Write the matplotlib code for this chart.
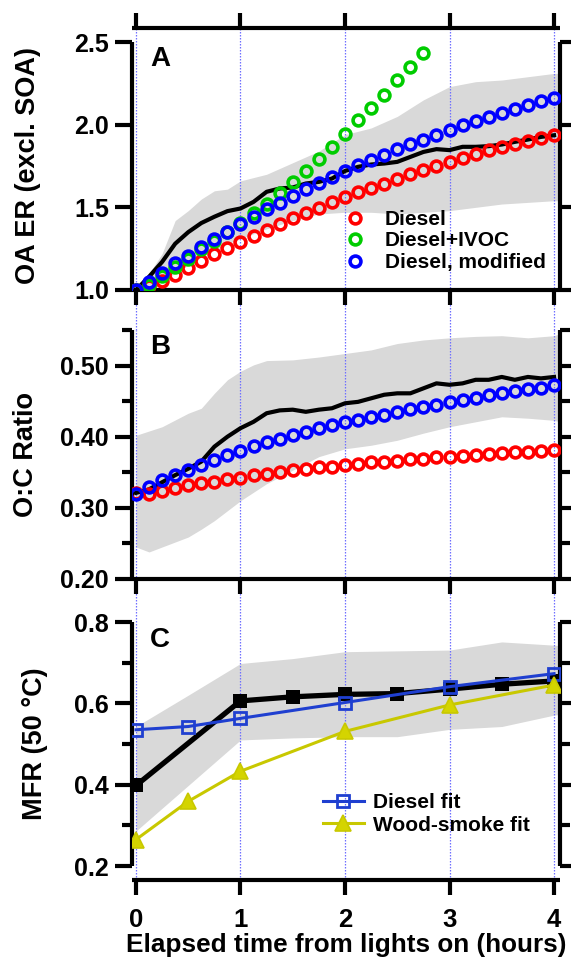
import matplotlib
matplotlib.use('Agg')
import matplotlib.pyplot as plt
from matplotlib.ticker import MultipleLocator, FormatStrFormatter

plt.rcParams['font.family'] = ['Liberation Sans', 'DejaVu Sans']
plt.rcParams['font.weight'] = 'bold'

# ---------------- data ----------------
t_model = [0.0, 0.125, 0.25, 0.375, 0.5, 0.625, 0.75, 0.875, 1.0, 1.125, 1.25, 1.375,
           1.5, 1.625, 1.75, 1.875, 2.0, 2.125, 2.25, 2.375, 2.5, 2.625, 2.75, 2.875,
           3.0, 3.125, 3.25, 3.375, 3.5, 3.625, 3.75, 3.875, 4.0]
t_ivoc = [0.0, 0.125, 0.25, 0.375, 0.5, 0.625, 0.75, 0.875, 1.0, 1.125, 1.25, 1.375,
          1.5, 1.625, 1.75, 1.875, 2.0, 2.125, 2.25, 2.375, 2.5, 2.625, 2.75]

# Panel A: OA ER
oa_diesel = [1.0, 1.024, 1.054, 1.09, 1.135, 1.175, 1.215, 1.256, 1.292, 1.328, 1.362, 1.399,
             1.433, 1.467, 1.497, 1.53, 1.56, 1.59, 1.618, 1.644, 1.67, 1.699, 1.725, 1.751,
             1.775, 1.80, 1.825, 1.846, 1.866, 1.886, 1.902, 1.92, 1.936]
oa_ivoc = [1.0, 1.03, 1.085, 1.14, 1.19, 1.245, 1.298, 1.352, 1.407, 1.463, 1.52, 1.588,
           1.654, 1.721, 1.795, 1.866, 1.946, 2.027, 2.103, 2.182, 2.268, 2.349, 2.433]
oa_modified = [1.0, 1.05, 1.105, 1.161, 1.205, 1.258, 1.306, 1.352, 1.399, 1.443, 1.487, 1.527,
               1.568, 1.608, 1.648, 1.685, 1.721, 1.755, 1.785, 1.819, 1.85, 1.882, 1.91, 1.94,
               1.97, 1.997, 2.023, 2.047, 2.073, 2.097, 2.121, 2.142, 2.164]
oa_measured = [1.0, 1.08, 1.17, 1.28, 1.35, 1.405, 1.443, 1.477, 1.493, 1.533, 1.594, 1.614,
               1.62, 1.644, 1.654, 1.674, 1.72, 1.745, 1.759, 1.765, 1.775, 1.805, 1.835, 1.852,
               1.846, 1.866, 1.866, 1.87, 1.88, 1.896, 1.91, 1.926, 1.936]
t_band_a = [0.0, 0.125, 0.25, 0.375, 0.5, 0.625, 0.75, 0.875, 1.0, 1.125, 1.25, 1.5, 1.75,
            2.0, 2.25, 2.5, 2.75, 3.0, 3.25, 3.5, 3.75, 4.0, 4.06]
oa_band_hi = [1.0, 1.1, 1.22, 1.42, 1.48, 1.55, 1.60, 1.61, 1.66, 1.68, 1.70, 1.77, 1.84,
              1.94, 1.98, 2.05, 2.15, 2.23, 2.26, 2.27, 2.29, 2.31, 2.31]
oa_band_lo = [1.0, 1.02, 1.06, 1.10, 1.15, 1.20, 1.24, 1.28, 1.31, 1.34, 1.37, 1.42, 1.46,
              1.47, 1.47, 1.46, 1.47, 1.48, 1.50, 1.52, 1.53, 1.54, 1.54]

# Panel B: O:C
oc_diesel = [0.321, 0.32, 0.324, 0.328, 0.332, 0.335, 0.337, 0.34, 0.342, 0.346, 0.348, 0.35,
             0.353, 0.355, 0.357, 0.358, 0.36, 0.362, 0.364, 0.365, 0.366, 0.368, 0.369, 0.371,
             0.372, 0.373, 0.374, 0.376, 0.377, 0.378, 0.379, 0.38, 0.381]
oc_modified = [0.32, 0.329, 0.339, 0.346, 0.353, 0.36, 0.367, 0.374, 0.38, 0.387, 0.392, 0.397,
               0.402, 0.407, 0.412, 0.416, 0.42, 0.424, 0.428, 0.431, 0.435, 0.439, 0.442, 0.445,
               0.449, 0.452, 0.455, 0.459, 0.461, 0.464, 0.467, 0.469, 0.472]
oc_measured = [0.321, 0.326, 0.336, 0.346, 0.355, 0.365, 0.386, 0.40, 0.412, 0.421, 0.433, 0.437,
               0.438, 0.435, 0.438, 0.44, 0.447, 0.449, 0.454, 0.459, 0.461, 0.461, 0.468, 0.475,
               0.473, 0.475, 0.48, 0.48, 0.484, 0.48, 0.484, 0.482, 0.484]
t_band_b = [0.0, 0.125, 0.25, 0.5, 0.625, 0.75, 0.875, 1.0, 1.125, 1.25, 1.5, 1.75, 2.0,
            2.25, 2.5, 2.75, 3.0, 3.25, 3.5, 3.75, 4.0, 4.06]
oc_band_hi = [0.402, 0.408, 0.414, 0.433, 0.44, 0.461, 0.48, 0.492, 0.501, 0.507, 0.508, 0.512,
              0.517, 0.522, 0.531, 0.536, 0.539, 0.541, 0.542, 0.539, 0.542, 0.545]
oc_band_lo = [0.245, 0.238, 0.245, 0.259, 0.27, 0.282, 0.296, 0.31, 0.322, 0.334, 0.353, 0.372,
              0.383, 0.388, 0.395, 0.405, 0.414, 0.421, 0.428, 0.426, 0.423, 0.421]

# Panel C: MFR
t_mfr_meas = [0.0, 1.0, 1.5, 2.0, 2.5, 3.0, 3.5, 4.0]
mfr_measured = [0.398, 0.606, 0.616, 0.622, 0.624, 0.635, 0.647, 0.655]
t_fit = [0.0, 0.5, 1.0, 2.0, 3.0, 4.0]
mfr_diesel_fit = [0.535, 0.543, 0.563, 0.602, 0.641, 0.673]
mfr_wood_fit = [0.265, 0.359, 0.433, 0.531, 0.596, 0.645]
t_band_c = [0.0, 0.5, 1.0, 1.5, 2.0, 2.5, 3.0, 3.5, 4.0, 4.06]
mfr_band_hi = [0.543, 0.62, 0.698, 0.71, 0.727, 0.729, 0.731, 0.751, 0.743, 0.742]
mfr_band_lo = [0.286, 0.398, 0.51, 0.515, 0.518, 0.518, 0.536, 0.543, 0.571, 0.573]

x_ticks = [0, 1, 2, 3, 4]
labels_a = ['Diesel', 'Diesel+IVOC', 'Diesel, modified']
labels_c = ['Diesel fit', 'Wood-smoke fit']

# ---------------- figure ----------------
W, H = 571, 966
fig = plt.figure(figsize=(W / 100, H / 100), dpi=100)


def frac_rect(left, top, right, bottom):
    return [left / W, 1 - bottom / H, (right - left) / W, (bottom - top) / H]


axA = fig.add_axes(frac_rect(131.7, 42, 560, 290))
axB = fig.add_axes(frac_rect(131.7, 330, 560, 579))
axC = fig.add_axes(frac_rect(131.7, 622, 560, 866))

XLIM = (-0.041, 4.057)
GREY = '#d9d9d9'
RED, GREEN, BLUE = '#ff0000', '#00cc00', '#0000ff'
SPW = 3.0
TICKFS = 18
LABFS = 19.5

circ = dict(marker='o', ms=7.8, mew=2.6, mfc='none', ls='none', zorder=4)


def style_axes(ax, top=False, bottom=True, xlabels=False, offset_top=False, offset_bottom=False):
    ax.set_xlim(*XLIM)
    ax.spines['top'].set_visible(top)
    ax.spines['bottom'].set_visible(bottom)
    for s in ['left', 'right', 'top', 'bottom']:
        ax.spines[s].set_linewidth(SPW)
        ax.spines[s].set_capstyle('butt')
    if offset_top:
        ax.spines['top'].set_position(('outward', 10))
    if offset_bottom:
        ax.spines['bottom'].set_position(('outward', 10))
    ax.set_xticks(x_ticks)
    ax.tick_params(axis='x', which='major', direction='out', length=11, width=SPW,
                   top=top, bottom=bottom, labelbottom=xlabels, labeltop=False,
                   labelsize=18.5, pad=9)
    ax.tick_params(axis='y', which='major', direction='out', length=12, width=SPW,
                   left=True, right=True, labelleft=True, labelright=False,
                   labelsize=TICKFS, pad=4.5)
    ax.tick_params(axis='y', which='minor', direction='out', length=7, width=SPW,
                   left=True, right=True)
    ax.patch.set_alpha(0)


def vgrid(ax, ylo, yhi):
    for xv in x_ticks:
        ax.axvline(xv, ymin=ylo, ymax=yhi, color='#6f6fff', lw=0.9,
                   ls=(0, (1.2, 1.2)), clip_on=False, zorder=1.5)


# ---- Panel A ----
axA.fill_between(t_band_a, oa_band_lo, oa_band_hi, color=GREY, lw=0, zorder=1)
vgrid(axA, -40 / 248, 1 + 14 / 248)
axA.plot(t_model, oa_measured, color='black', lw=3.0, zorder=3, solid_joinstyle='round')
hA1, = axA.plot(t_model, oa_diesel, mec=RED, **circ)
hA2, = axA.plot(t_ivoc, oa_ivoc, mec=GREEN, **circ)
hA3, = axA.plot(t_model, oa_modified, mec=BLUE, **circ)
axA.set_ylim(1.0, 2.5)
axA.yaxis.set_major_locator(MultipleLocator(0.5))
axA.yaxis.set_major_formatter(FormatStrFormatter('%.1f'))
style_axes(axA, top=True, bottom=True, offset_top=True)
axA.set_ylabel('OA ER (excl. SOA)', fontsize=LABFS, fontweight='bold')
axA.yaxis.set_label_coords((28 - 131.7) / 428.3, 0.5)
axA.yaxis.label.set_va('center')
axA.text(0.043, 0.985, 'A', transform=axA.transAxes, fontsize=20, fontweight='bold',
         va='top', ha='left')
legA = axA.legend([hA1, hA2, hA3], labels_a, loc='upper left',
                  bbox_to_anchor=((345 - 131.7) / 428.3, (290 - 210) / 248),
                  frameon=False, fontsize=15, handlelength=0.95, handletextpad=0.95,
                  labelspacing=0.12, borderpad=0, borderaxespad=0, numpoints=1)

# ---- Panel B ----
axB.fill_between(t_band_b, oc_band_lo, oc_band_hi, color=GREY, lw=0, zorder=1)
vgrid(axB, -43 / 249, 1.0)
axB.plot(t_model, oc_measured, color='black', lw=3.0, zorder=3, solid_joinstyle='round')
axB.plot(t_model, oc_diesel, mec=RED, **circ)
axB.plot(t_model, oc_modified, mec=BLUE, **circ)
axB.set_ylim(0.20, 0.55)
axB.yaxis.set_major_locator(MultipleLocator(0.1))
axB.yaxis.set_minor_locator(MultipleLocator(0.05))
axB.yaxis.set_major_formatter(FormatStrFormatter('%.2f'))
style_axes(axB, top=False, bottom=True)
axB.set_ylabel('O:C Ratio', fontsize=LABFS, fontweight='bold')
axB.yaxis.set_label_coords((26 - 131.7) / 428.3, 0.5)
axB.yaxis.label.set_va('center')
axB.text(0.043, 0.985, 'B', transform=axB.transAxes, fontsize=20, fontweight='bold',
         va='top', ha='left')

# ---- Panel C ----
axC.fill_between(t_band_c, mfr_band_lo, mfr_band_hi, color=GREY, lw=0, zorder=1)
vgrid(axC, -14 / 244, 1.0)
axC.plot(t_mfr_meas, mfr_measured, color='black', lw=3.8, marker='s', ms=10.5, mew=0,
         mfc='black', zorder=3)
hC1, = axC.plot(t_fit, mfr_diesel_fit, color='#1f3fd0', lw=2.2, marker='s', ms=8.5, mew=2.0,
                mfc='none', mec='#1f3fd0', zorder=4)
hC2, = axC.plot(t_fit, mfr_wood_fit, color='#c8c800', lw=2.2, marker='^', ms=11, mew=1.2,
                mfc='#d4d400', mec='#c8c800', zorder=4)
axC.set_ylim(0.2, 0.8)
axC.yaxis.set_major_locator(MultipleLocator(0.2))
axC.yaxis.set_minor_locator(MultipleLocator(0.1))
axC.yaxis.set_major_formatter(FormatStrFormatter('%.1f'))
style_axes(axC, top=False, bottom=True, xlabels=True, offset_bottom=True)
axC.set_ylabel('MFR (50 \u00b0C)', fontsize=LABFS, fontweight='bold')
axC.yaxis.set_label_coords((35 - 131.7) / 428.3, 0.5)
axC.yaxis.label.set_va('center')
axC.set_xlabel('Elapsed time from lights on (hours)', fontsize=18.8, fontweight='bold',
               labelpad=1)
axC.text(0.043, 0.98, 'C', transform=axC.transAxes, fontsize=20, fontweight='bold',
         va='top', ha='left')
legC = axC.legend([hC1, hC2], labels_c, loc='upper left',
                  bbox_to_anchor=((323 - 131.7) / 428.3, (866 - 793) / 244),
                  frameon=False, fontsize=15, handlelength=1.95, handletextpad=0.45,
                  labelspacing=0.18, borderpad=0, borderaxespad=0, numpoints=1)

for lg in (legA, legC):
    for txt in lg.get_texts():
        txt.set_fontweight('bold')

fig.savefig('out.png', dpi=100)
